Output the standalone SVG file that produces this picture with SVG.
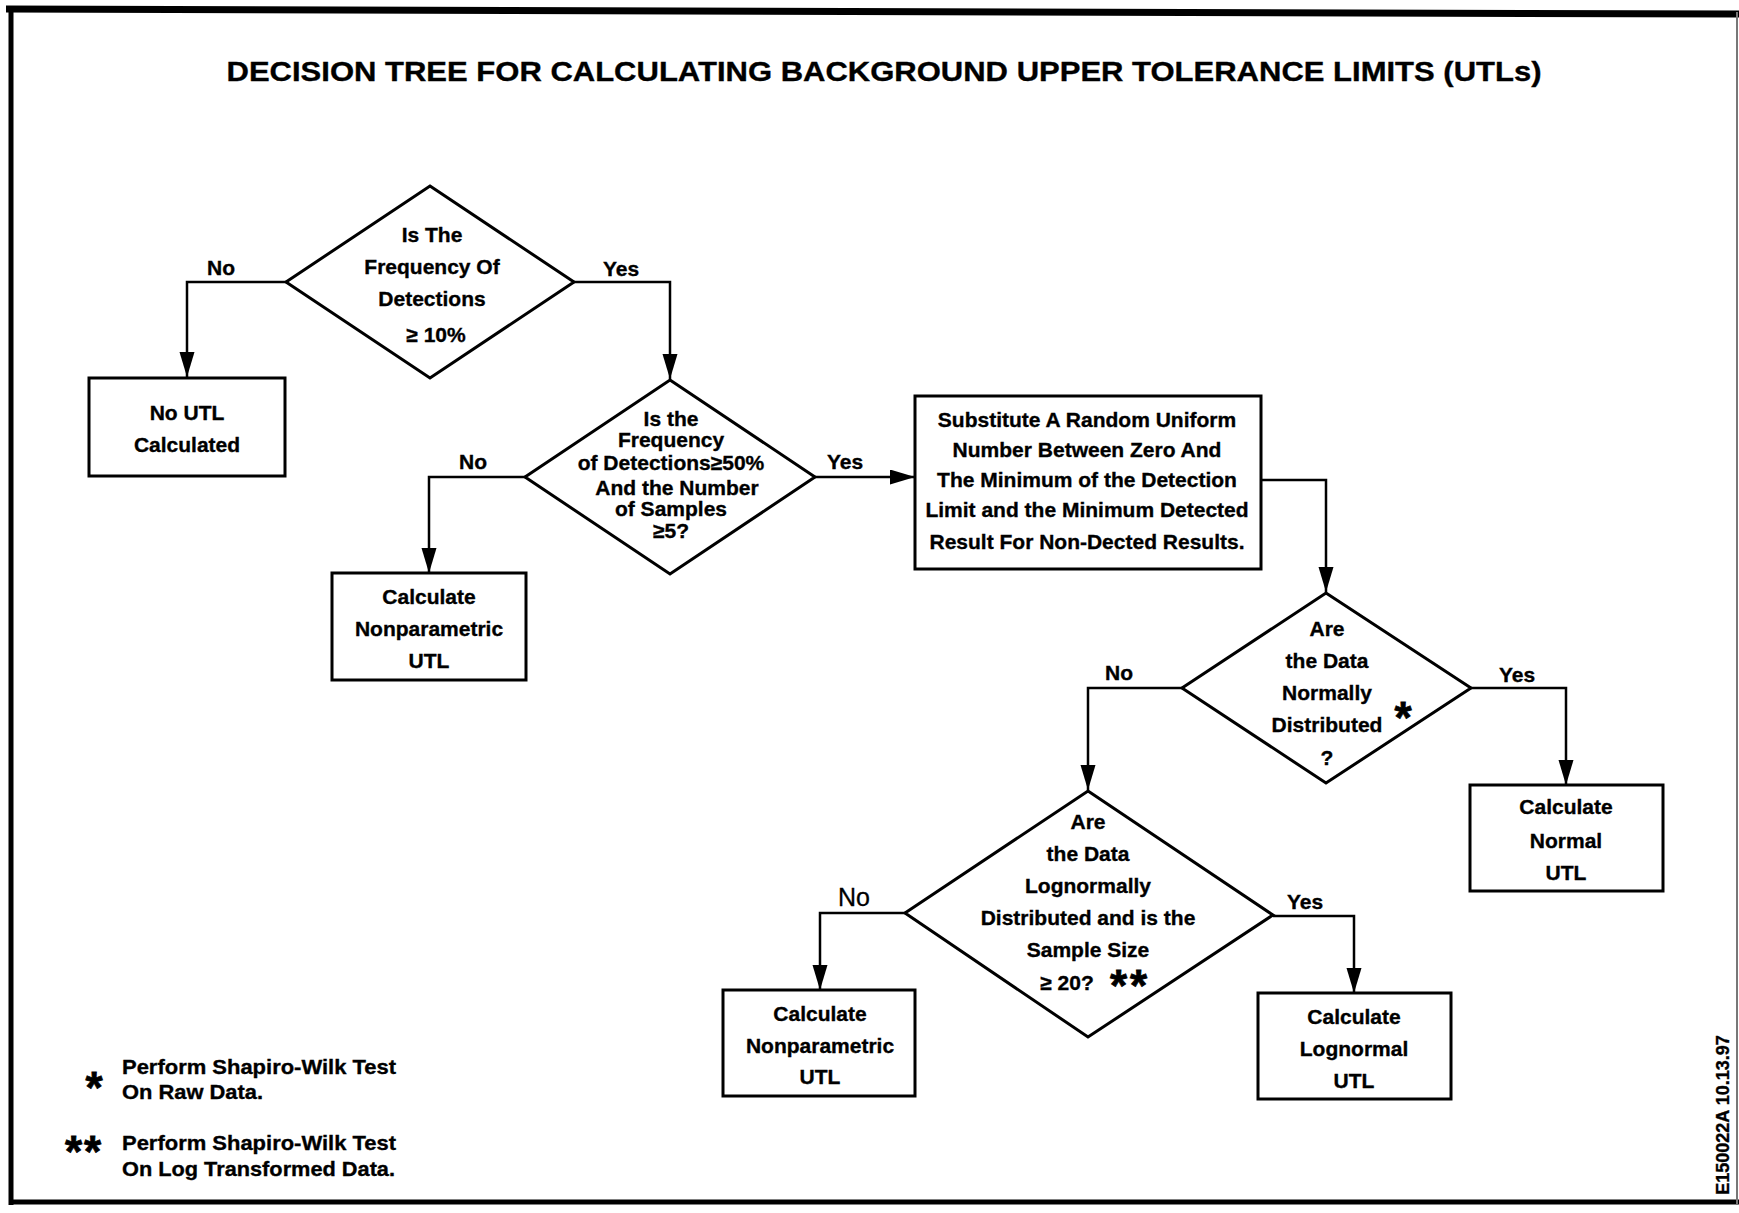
<svg xmlns="http://www.w3.org/2000/svg" width="1739" height="1213" viewBox="0 0 1739 1213">
<style>
text{font-family:"Liberation Sans",Arial,Helvetica,sans-serif;font-weight:bold;fill:#000;text-anchor:middle;stroke:#000;stroke-width:0.35}
.t{font-size:21px}
.lbl{font-size:21px}
.ast{font-size:44px;stroke-width:0.8}
.shape{fill:#fff;stroke:#000;stroke-width:3}
.conn{fill:none;stroke:#000;stroke-width:2.5}
.note{font-size:21px;text-anchor:start}
</style>
<defs>
<marker id="arr" markerUnits="userSpaceOnUse" markerWidth="26" markerHeight="16" refX="25" refY="7.5" orient="auto">
<path d="M0,0 L25,7.5 L0,15 z" fill="#000"/>
</marker>
</defs>
<rect width="1739" height="1213" fill="#fff"/>
<g id="frame">
<line x1="6" y1="9" x2="1739" y2="14" stroke="#000" stroke-width="7"/>
<line x1="11" y1="8" x2="11" y2="1205" stroke="#000" stroke-width="5"/>
<line x1="9" y1="1202" x2="1739" y2="1202" stroke="#000" stroke-width="5"/>
<line x1="1737" y1="12" x2="1737" y2="1205" stroke="#777" stroke-width="2"/>
</g>
<text id="title" x="884" y="81" font-size="28" textLength="1315" lengthAdjust="spacingAndGlyphs">DECISION TREE FOR CALCULATING BACKGROUND UPPER TOLERANCE LIMITS (UTLs)</text>
<g id="connectors">
<polyline class="conn" points="286,282 187,282 187,377" marker-end="url(#arr)"/>
<polyline class="conn" points="574,282 670,282 670,379" marker-end="url(#arr)"/>
<polyline class="conn" points="525,477 429,477 429,573" marker-end="url(#arr)"/>
<polyline class="conn" points="815,477 915,477" marker-end="url(#arr)"/>
<polyline class="conn" points="1261,480 1326,480 1326,592" marker-end="url(#arr)"/>
<polyline class="conn" points="1182,688 1088,688 1088,790" marker-end="url(#arr)"/>
<polyline class="conn" points="1471,688 1566,688 1566,785" marker-end="url(#arr)"/>
<polyline class="conn" points="905,913 820,913 820,990" marker-end="url(#arr)"/>
<polyline class="conn" points="1273,916 1354,916 1354,993" marker-end="url(#arr)"/>
<text class="lbl" x="221" y="275">No</text>
<text class="lbl" x="621" y="276">Yes</text>
<text class="lbl" x="473" y="469">No</text>
<text class="lbl" x="845" y="469">Yes</text>
<text class="lbl" x="1119" y="680">No</text>
<text class="lbl" x="1517" y="682">Yes</text>
<text x="854" y="906" font-size="25" style="font-weight:normal;stroke-width:0.3">No</text>
<text class="lbl" x="1305" y="909">Yes</text>
</g>
<g id="d1">
<polygon class="shape" points="430,186 574,282 430,378 286,282"/>
<text class="t" x="432" y="242">Is The</text>
<text class="t" x="432" y="274">Frequency Of</text>
<text class="t" x="432" y="306">Detections</text>
<text class="t" x="436" y="342">≥ 10%</text>
</g>
<g id="noutl">
<rect class="shape" x="89" y="378" width="196" height="98"/>
<text class="t" x="187" y="420">No UTL</text>
<text class="t" x="187" y="452">Calculated</text>
</g>
<g id="d2">
<polygon class="shape" points="670,380 815,477 670,574 525,477"/>
<text class="t" x="671" y="426">Is the</text>
<text class="t" x="671" y="447">Frequency</text>
<text class="t" x="671" y="470">of Detections≥50%</text>
<text class="t" x="677" y="495">And the Number</text>
<text class="t" x="671" y="516">of Samples</text>
<text class="t" x="671" y="538">≥5?</text>
</g>
<g id="nonpar1">
<rect class="shape" x="332" y="573" width="194" height="107"/>
<text class="t" x="429" y="604">Calculate</text>
<text class="t" x="429" y="636">Nonparametric</text>
<text class="t" x="429" y="668">UTL</text>
</g>
<g id="subst">
<rect class="shape" x="915" y="396" width="346" height="173"/>
<text class="t" x="1087" y="427">Substitute A Random Uniform</text>
<text class="t" x="1087" y="457">Number Between Zero And</text>
<text class="t" x="1087" y="487">The Minimum of the Detection</text>
<text class="t" x="1087" y="517">Limit and the Minimum Detected</text>
<text class="t" x="1087" y="549">Result For Non-Dected Results.</text>
</g>
<g id="d3">
<polygon class="shape" points="1326,593 1471,688 1326,783 1182,688"/>
<text class="t" x="1327" y="636">Are</text>
<text class="t" x="1327" y="668">the Data</text>
<text class="t" x="1327" y="700">Normally</text>
<text class="t" x="1327" y="732">Distributed</text>
<text class="t" x="1327" y="765">?</text>
<text class="ast" x="1403" y="733">*</text>
</g>
<g id="normal">
<rect class="shape" x="1470" y="785" width="193" height="106"/>
<text class="t" x="1566" y="814">Calculate</text>
<text class="t" x="1566" y="848">Normal</text>
<text class="t" x="1566" y="880">UTL</text>
</g>
<g id="d4">
<polygon class="shape" points="1088,791 1273,915 1088,1037 905,913"/>
<text class="t" x="1088" y="829">Are</text>
<text class="t" x="1088" y="861">the Data</text>
<text class="t" x="1088" y="893">Lognormally</text>
<text class="t" x="1088" y="925">Distributed and is the</text>
<text class="t" x="1088" y="957">Sample Size</text>
<text class="t" x="1067" y="990">≥ 20?</text>
<text class="ast" x="1130" y="1001" letter-spacing="3">**</text>
</g>
<g id="nonpar2">
<rect class="shape" x="723" y="990" width="192" height="106"/>
<text class="t" x="820" y="1021">Calculate</text>
<text class="t" x="820" y="1053">Nonparametric</text>
<text class="t" x="820" y="1084">UTL</text>
</g>
<g id="lognormal">
<rect class="shape" x="1258" y="993" width="193" height="106"/>
<text class="t" x="1354" y="1024">Calculate</text>
<text class="t" x="1354" y="1056">Lognormal</text>
<text class="t" x="1354" y="1088">UTL</text>
</g>
<g id="notes">
<text class="ast" x="94" y="1103">*</text>
<text class="note" x="122" y="1074" textLength="274" lengthAdjust="spacingAndGlyphs">Perform Shapiro-Wilk Test</text>
<text class="note" x="122" y="1099" textLength="141" lengthAdjust="spacingAndGlyphs">On Raw Data.</text>
<text class="ast" x="84" y="1167" letter-spacing="2">**</text>
<text class="note" x="122" y="1150" textLength="274" lengthAdjust="spacingAndGlyphs">Perform Shapiro-Wilk Test</text>
<text class="note" x="122" y="1176" textLength="273" lengthAdjust="spacingAndGlyphs">On Log Transformed Data.</text>
</g>
<text id="code" transform="translate(1729,1115) rotate(-90)" font-size="18">E150022A  10.13.97</text>
</svg>
